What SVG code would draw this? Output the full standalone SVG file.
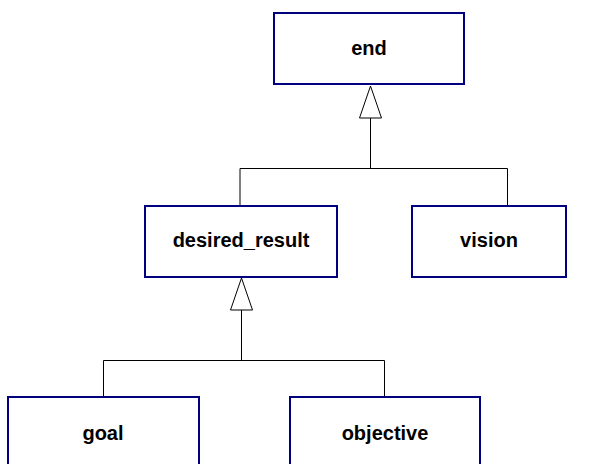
<svg xmlns="http://www.w3.org/2000/svg" width="599" height="464" viewBox="0 0 599 464">
<style>
.box{fill:#fff;stroke:#000080;stroke-width:2}
.lbl{font-family:"Liberation Sans",Arial,sans-serif;font-weight:bold;font-size:20px;text-anchor:middle;fill:#000}
.ln{fill:none;stroke:#000;stroke-width:1}
.tri{fill:#fff;stroke:#000;stroke-width:1}
</style>
<rect width="599" height="464" fill="#fff"/>
<g id="connectors">
<polyline class="ln" points="240,205 240,168.5 507.5,168.5 507.5,205"/>
<line class="ln" x1="370.5" y1="168.5" x2="370.5" y2="118"/>
<polygon class="tri" points="370.5,86 359.5,118 381.5,118"/>
<polyline class="ln" points="103.5,396 103.5,360.5 384.5,360.5 384.5,396"/>
<line class="ln" x1="241.5" y1="360.5" x2="241.5" y2="310"/>
<polygon class="tri" points="241.5,278 230.5,310 252.5,310"/>
</g>
<g id="end"><rect class="box" x="274" y="13" width="190" height="71"/><text class="lbl" x="369" y="55">end</text></g>
<g id="desired_result"><rect class="box" x="145" y="206" width="192" height="71"/><text class="lbl" x="241" y="247">desired_result</text></g>
<g id="vision"><rect class="box" x="412" y="206" width="154" height="71"/><text class="lbl" x="489" y="247">vision</text></g>
<g id="goal"><rect class="box" x="8" y="397" width="191" height="71"/><text class="lbl" x="103" y="440">goal</text></g>
<g id="objective"><rect class="box" x="290" y="397" width="190" height="71"/><text class="lbl" x="385" y="440">objective</text></g>
</svg>
